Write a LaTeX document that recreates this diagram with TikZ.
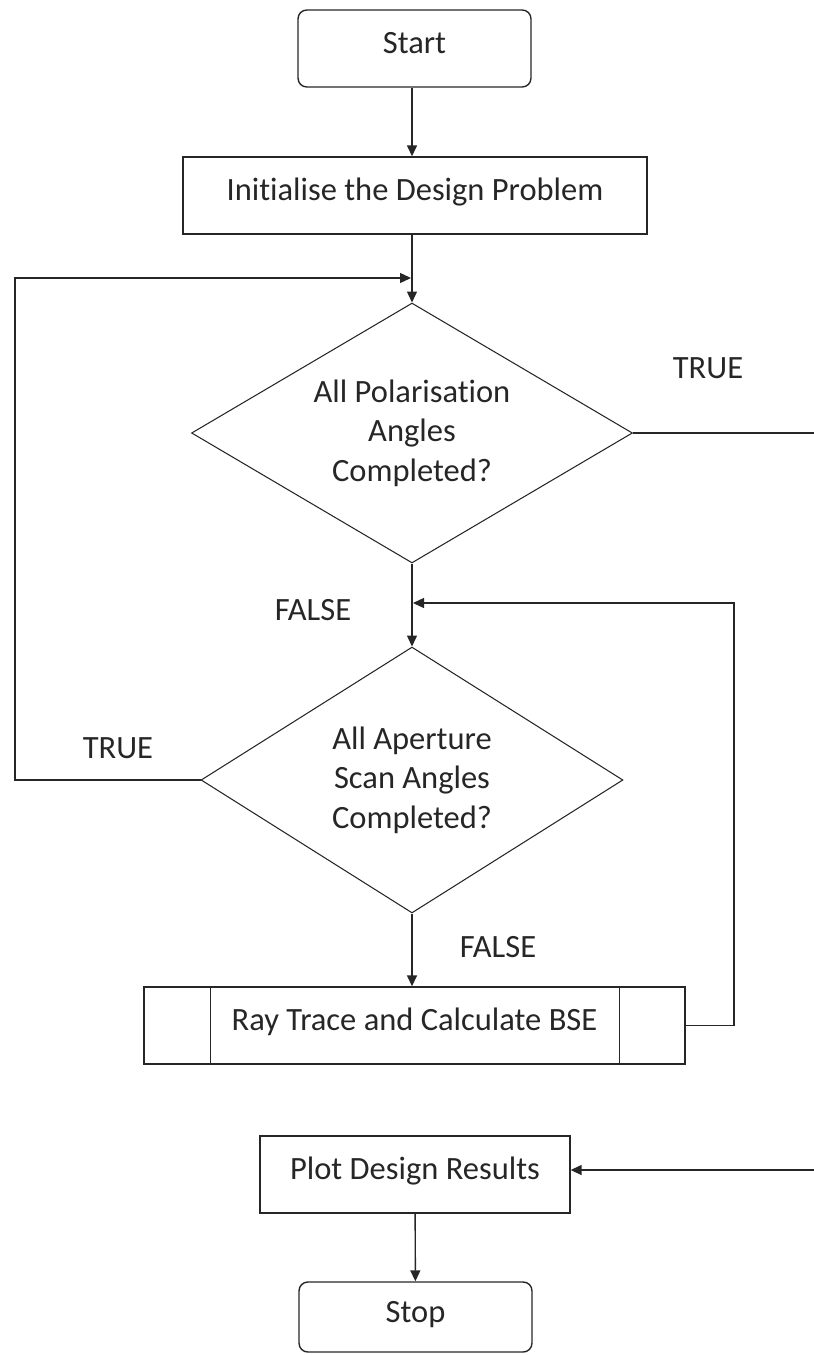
\documentclass[tikz,border=0pt]{standalone}
\usepackage{fontspec}
\setmainfont{Carlito}[Ligatures=NoCommon]
\usetikzlibrary{shapes.geometric,arrows.meta}
\def\hei{1.54cm}
\def\termwid{4.66cm}

\begin{document}
\begin{tikzpicture}[x=0.02cm,y=-0.02cm,>={Triangle[length=2.2mm,width=2mm]},font=\fontsize{18.5}{22.5}\selectfont,color={black!85}]
\tikzset{
  term/.style={draw,line width=0.8pt,rounded corners=5pt,minimum width=\termwid,minimum height=\hei,inner sep=0pt,text height=0.4cm,text depth=0.2cm},
  proc/.style={draw,line width=0.8pt,minimum height=\hei,inner sep=0pt,text height=0.4cm,text depth=0.2cm},
  decide/.style={draw,line width=0.6pt,diamond,inner sep=0pt,align=center},
  flow/.style={line width=0.8pt}
}
\useasboundingbox (0,0) rectangle (814,1355);
\node[term] (start) at (414.5,48.5) {Start};
\node[proc,minimum width=9.28cm] (init) at (415,195.5) {Initialise the Design Problem};
\node[decide,shape aspect=1.7,minimum width=8.82cm,minimum height=5.2cm] (pol) at (412,433) {All Polarisation\\Angles\\Completed?};
\node[decide,shape aspect=1.59,minimum width=8.44cm,minimum height=5.32cm] (scan) at (412,780) {All Aperture\\Scan Angles\\Completed?};
\node[proc,minimum width=10.82cm] (bse) at (414.5,1025.5) {Ray Trace and Calculate BSE};
\node[proc,minimum width=6.2cm] (plot) at (415,1174.5) {Plot Design Results};
\node[term,minimum height=1.4cm] (stop) at (415.5,1317) {Stop};
% labels
\node (t1) at (708,368) {TRUE};
\node (f1) at (313,610) {FALSE};
\node (t2) at (118,748) {TRUE};
\node (f2) at (498,947) {FALSE};
% side bars of the subroutine box
\draw[flow] ([xshift=1.34cm]bse.north west) -- ([xshift=1.34cm]bse.south west);
\draw[flow] ([xshift=-1.32cm]bse.north east) -- ([xshift=-1.32cm]bse.south east);
% joins and free ends
\coordinate (jn1) at (411,278);
\coordinate (lp1) at (15,278);
\coordinate (jn2) at (413,603);
\coordinate (lp2) at (734,603);
\coordinate (rt1) at (814,433);
\coordinate (rt3) at (814,1170);
\draw[flow,->] (pol.north |- start.south) -- (pol.north |- init.north);
\draw[flow,->] (pol.north |- init.south) -- (pol.north);
\draw[flow,->] (scan.west) -| (lp1) -- (jn1);
\draw[flow] (pol.east) -- (rt1);
\draw[flow,->] (pol.south) -- (scan.north);
\draw[flow,->] (scan.south) -- (scan.south |- bse.north);
\draw[flow,->] (bse.east) -| (lp2) -- (jn2);
\draw[flow,->] (rt3) -- (rt3 -| plot.east);
\draw[flow,->] (plot) -- (stop);
\end{tikzpicture}
\end{document}
